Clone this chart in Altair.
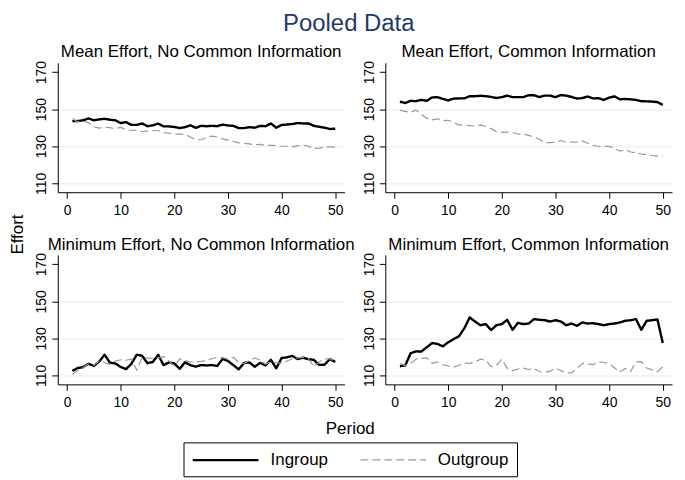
import altair as alt
import pandas as pd

FONT = "Liberation Sans"

periods = list(range(1, 51))
series_names = ["Ingroup", "Outgroup"]
panel_titles = [
    "Mean Effort, No Common Information",
    "Mean Effort, Common Information",
    "Minimum Effort, No Common Information",
    "Minimum Effort, Common Information",
]
x_ticks = [0, 10, 20, 30, 40, 50]
y_ticks = [110, 130, 150, 170]

mean_nci_in = [143.5, 143.6, 144.0, 145.0, 144.0, 144.5, 144.8, 144.3, 144.0, 142.5,
               143.0, 141.5, 141.5, 142.3, 140.8, 141.3, 142.2, 140.7, 140.7, 140.4,
               139.8, 140.3, 141.3, 139.9, 141.0, 140.8, 141.0, 140.8, 141.7, 141.2,
               141.0, 139.8, 139.8, 140.3, 140.0, 141.0, 140.8, 142.3, 140.0, 141.5,
               141.7, 142.0, 142.5, 142.3, 142.3, 141.0, 140.5, 140.0, 139.3, 139.5]
mean_nci_out = [145.0, 143.2, 143.5, 142.7, 140.5, 139.8, 140.3, 140.0, 139.5, 140.2,
                139.0, 138.5, 138.7, 137.8, 138.3, 138.5, 138.5, 137.3, 137.0, 136.5,
                136.5, 136.4, 135.0, 133.5, 133.5, 134.8, 135.5, 135.0, 134.0, 133.3,
                132.5, 131.8, 131.6, 131.3, 130.8, 131.0, 130.5, 130.5, 130.4, 130.0,
                130.0, 129.7, 130.3, 130.5, 130.0, 128.8, 129.0, 129.6, 129.7, 129.5]
mean_ci_in = [154.0, 153.3, 154.5, 154.3, 155.0, 154.5, 156.3, 156.5, 155.5, 154.7,
              155.7, 155.8, 155.8, 157.0, 157.0, 157.2, 157.0, 156.6, 156.0, 156.5,
              157.3, 156.5, 156.5, 156.5, 157.5, 157.5, 156.5, 157.3, 157.3, 156.5,
              157.6, 157.3, 156.6, 155.7, 156.0, 156.8, 155.8, 155.9, 155.0, 156.2,
              156.9, 155.3, 155.5, 155.3, 155.0, 154.3, 154.2, 154.1, 153.8, 152.3]
mean_ci_out = [149.3, 148.8, 148.3, 149.5, 147.3, 145.0, 144.2, 144.8, 143.8, 144.0,
               142.8, 141.5, 141.3, 141.1, 140.9, 141.4, 140.8, 139.5, 137.8, 137.5,
               137.6, 137.4, 136.6, 136.5, 135.9, 134.9, 133.8, 132.0, 131.9, 132.3,
               133.1, 132.1, 132.2, 132.4, 132.9, 131.6, 130.5, 130.0, 129.9, 129.9,
               128.8, 127.4, 128.3, 126.9, 126.5, 125.8, 125.6, 125.0, 124.7, 124.8]
min_nci_in = [112.5, 114.0, 114.5, 116.3, 115.1, 117.5, 121.2, 116.9, 116.5, 114.6,
              113.4, 116.3, 121.2, 120.6, 116.6, 117.3, 121.1, 115.6, 117.0, 116.5,
              113.6, 117.1, 115.5, 114.8, 115.6, 115.4, 115.6, 115.1, 118.9, 117.8,
              115.6, 113.3, 116.8, 117.0, 114.7, 116.8, 115.4, 118.4, 113.9, 119.4,
              119.8, 120.5, 118.8, 119.6, 118.8, 118.4, 115.7, 115.8, 118.8, 117.3]
min_nci_out = [110.5, 112.8, 114.3, 116.3, 115.5, 117.8, 117.0, 116.0, 117.8, 118.5,
               118.2, 118.8, 112.8, 119.8, 119.5, 119.3, 119.5, 120.2, 117.8, 115.0,
               119.0, 118.0, 117.2, 117.3, 117.6, 118.2, 119.0, 119.8, 119.6, 118.8,
               119.8, 117.0, 116.5, 118.0, 119.4, 118.3, 116.0, 117.5, 116.8, 116.5,
               117.8, 119.0, 119.5, 119.8, 119.0, 114.8, 117.2, 119.0, 119.0, 117.6]
min_ci_in = [115.0, 115.4, 122.0, 123.0, 122.9, 125.2, 127.5, 127.0, 125.7, 127.9,
             129.6, 131.1, 135.4, 141.3, 139.1, 137.1, 137.7, 134.5, 137.1, 137.7,
             140.0, 134.6, 138.4, 137.7, 138.0, 140.4, 140.0, 139.8, 139.1, 139.8,
             139.1, 137.1, 138.0, 136.8, 138.6, 138.0, 138.2, 137.7, 137.1, 137.7,
             138.0, 138.6, 139.5, 139.8, 140.4, 134.6, 139.5, 139.8, 140.2, 127.5]
min_ci_out = [116.5, 115.3, 116.5, 118.8, 119.2, 119.5, 116.5, 117.3, 115.8, 115.2,
              114.5, 115.5, 116.8, 116.5, 117.2, 118.8, 118.2, 114.8, 115.4, 118.8,
              113.8, 112.6, 113.5, 114.0, 113.2, 113.8, 112.0, 111.7, 112.3, 114.0,
              112.6, 111.3, 111.5, 113.8, 116.5, 116.3, 115.8, 117.4, 117.0, 116.5,
              114.2, 111.8, 113.8, 112.2, 117.3, 117.5, 114.0, 113.0, 112.0, 114.8]

ingroup_all = [mean_nci_in, mean_ci_in, min_nci_in, min_ci_in]
outgroup_all = [mean_nci_out, mean_ci_out, min_nci_out, min_ci_out]

rows = []
for title, ing, outg in zip(panel_titles, ingroup_all, outgroup_all):
    for p, a, b in zip(periods, ing, outg):
        rows.append({"panel": title, "period": p, "series": series_names[0], "value": a})
        rows.append({"panel": title, "period": p, "series": series_names[1], "value": b})
df = pd.DataFrame(rows)

PW, PH = 288, 130

legend = alt.Legend(
    title=None, orient="none", legendX=126.3, legendY=381.3,
    direction="horizontal", symbolType="M-1,0H7", symbolSize=272,
    labelFontSize=17, labelFont=FONT, labelColor="black", labelOffset=60.5,
    columnPadding=29, padding=8, strokeColor="black", fillColor="white",
    labelLimit=0,
)


def panel(idx):
    title = panel_titles[idx]
    xaxis_kw = dict(values=x_ticks, grid=False, labelFont=FONT, labelFontSize=14,
                    labelColor="black", labelPadding=5, tickSize=6, tickColor="black",
                    domainColor="black", labelFlush=False)
    yaxis_kw = dict(values=y_ticks, grid=True, gridColor="#e4edf2", gridWidth=1,
                    gridOpacity={"condition": {"test": "datum.value == 170", "value": 0}, "value": 1},
                    labelFont=FONT, labelFontSize=14, labelColor="black", labelAngle=270,
                    labelAlign="center", labelBaseline="bottom", labelPadding=3,
                    tickSize=6, tickColor="black", domainColor="black", labelFlush=False)
    xtitle = None
    ytitle = None
    if idx == 0:
        ytitle = "Effort"
        yaxis_kw.update(titleX=-40.2, titleY=172, titleBaseline="middle", titleAngle=270,
                        titleFont=FONT, titleFontSize=17, titleFontWeight="normal",
                        titleColor="black")
    if idx == 2:
        xtitle = "Period"
        xaxis_kw.update(titleX=293.3, titleY=49.7, titleBaseline="alphabetic",
                        titleFont=FONT, titleFontSize=17, titleFontWeight="normal",
                        titleColor="black")
    return alt.Chart(df).transform_filter(alt.datum.panel == title).mark_line(
        strokeJoin="round"
    ).encode(
        x=alt.X("period:Q", title=xtitle,
                scale=alt.Scale(domain=[-1.72, 51.72], nice=False, zero=False),
                axis=alt.Axis(**xaxis_kw)),
        y=alt.Y("value:Q", title=ytitle,
                scale=alt.Scale(domain=[105.2, 175], nice=False, zero=False),
                axis=alt.Axis(**yaxis_kw)),
        color=alt.Color("series:N", scale=alt.Scale(domain=series_names, range=["#000000", "#999999"]),
                        legend=legend),
        strokeDash=alt.StrokeDash("series:N", scale=alt.Scale(domain=series_names, range=[[1, 0], [8, 4]]),
                                  legend=legend),
        strokeWidth=alt.StrokeWidth("series:N", scale=alt.Scale(domain=series_names, range=[2.4, 1.2]),
                                    legend=legend),
    ).properties(
        width=PW, height=PH,
        title=alt.TitleParams(title, fontSize=17, font=FONT, color="black", fontWeight="normal",
                              anchor="middle", frame="group", offset=-14, baseline="alphabetic"),
    )


chart = alt.concat(
    panel(0), panel(1), panel(2), panel(3),
    columns=2, spacing={"row": 63, "column": 41}, bounds="flush",
).properties(
    title=alt.TitleParams("Pooled Data", fontSize=24, font=FONT, color="#1e3a66", fontWeight="normal",
                          anchor="start", frame="group", offset=-11.6, baseline="alphabetic", dx=226.3),
    padding={"left": 0, "top": 3, "right": 5, "bottom": 0},
    background="white",
).configure_view(strokeWidth=0)

chart.save("out.html", embed_options={"renderer": "svg", "actions": False})
